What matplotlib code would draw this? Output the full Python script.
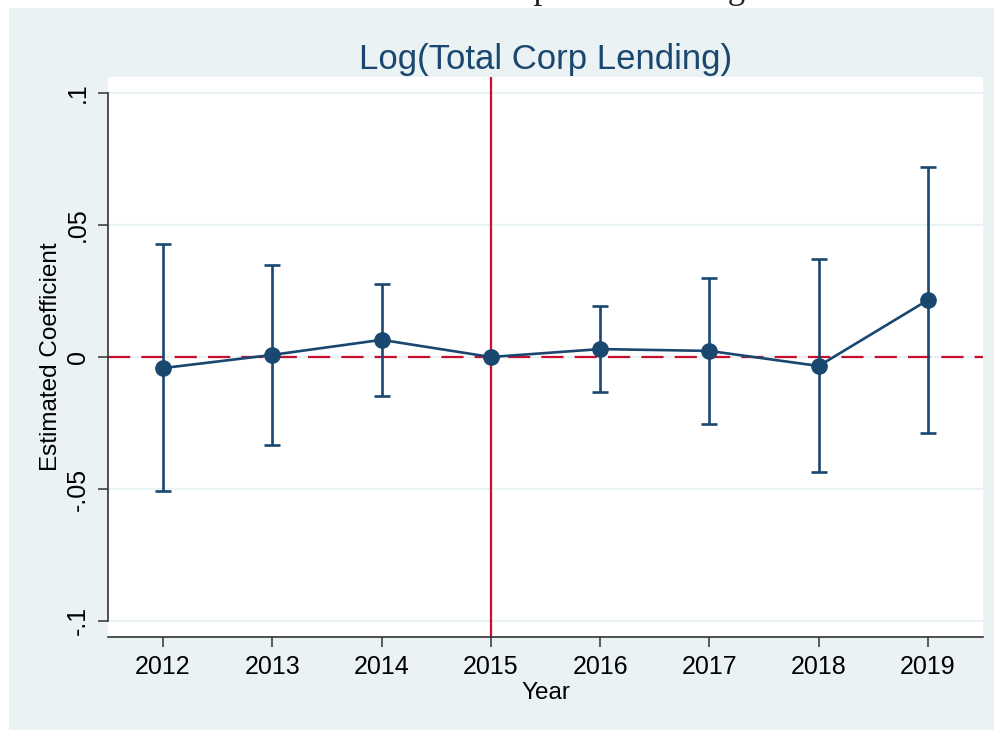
import matplotlib
matplotlib.use("Agg")
import matplotlib.pyplot as plt
from matplotlib.patches import Rectangle

years = [2012, 2013, 2014, 2015, 2016, 2017, 2018, 2019]
coef = [-0.0042, 0.0008, 0.0065, 0.0, 0.0030, 0.0023, -0.0034, 0.0216]
ci_hi = [0.0429, 0.0349, 0.0277, 0.0, 0.0194, 0.0300, 0.0372, 0.0721]
ci_lo = [-0.0509, -0.0334, -0.0148, 0.0, -0.0133, -0.0254, -0.0436, -0.0288]
ytick_vals = [-0.1, -0.05, 0, 0.05, 0.1]
ytick_labels = ["-.1", "-.05", "0", ".05", ".1"]

navy = "#1a476f"
red = "#c8102e"
bg = "#eaf2f3"

plt.rcParams["font.family"] = ["Liberation Sans", "DejaVu Sans"]

W, H = 995, 730
fig = plt.figure(figsize=(W / 100, H / 100), dpi=100)
fig.patch.set_facecolor("white")
fig.patches.append(Rectangle((9 / W, 0), 1 - 9 / W, 1 - 8 / H,
                             transform=fig.transFigure, facecolor=bg,
                             edgecolor="none", zorder=-5))
# caption of the page, cut off at the top edge
fig.text(745 / W, 1 + 2 / H, "Panel A: Total Corporate Lending", ha="right",
         va="baseline", fontsize=25, family="Liberation Serif", color="#222222")

ax = fig.add_axes([108 / W, (H - 637) / H, 875 / W, 560 / H])
ax.set_facecolor("white")

for v in ytick_vals:
    ax.axhline(v, color=bg, lw=1.6, zorder=1)

ax.axhline(0, color=red, lw=1.6, dashes=(10, 5), zorder=2)
ax.axvline(2015, color=red, lw=1.6, zorder=2)

err_lo = [c - l for c, l in zip(coef, ci_lo)]
err_hi = [h - c for c, h in zip(coef, ci_hi)]
ax.errorbar(years, coef, yerr=[err_lo, err_hi], fmt="-o", color=navy,
            lw=1.9, elinewidth=1.9, capsize=5.5, capthick=1.9,
            markersize=11, zorder=3)

ax.set_xlim(2011.497, 2019.503)
ax.set_ylim(-0.1061, 0.1061)
ax.set_xticks(years)
ax.set_xticklabels([str(y) for y in years])
ax.set_yticks(ytick_vals)
ax.set_yticklabels(ytick_labels, rotation=90, va="center")

for s in ["top", "right"]:
    ax.spines[s].set_visible(False)
ax.spines["left"].set_bounds(-0.1, 0.1)
for s in ["left", "bottom"]:
    ax.spines[s].set_color("#333333")
    ax.spines[s].set_linewidth(1.2)

ax.tick_params(axis="both", direction="out", length=7, width=1.1,
               color="#333333", labelsize=18, labelcolor="black")
ax.tick_params(axis="x", pad=6)
ax.tick_params(axis="y", pad=6)

ax.set_xlabel("Year", fontsize=17.5, labelpad=2)
ax.set_ylabel("Estimated Coefficient", fontsize=17.5, labelpad=3)
ax.set_title("Log(Total Corp Lending)", fontsize=25, color=navy, pad=6)

fig.savefig("out.png", dpi=100)
